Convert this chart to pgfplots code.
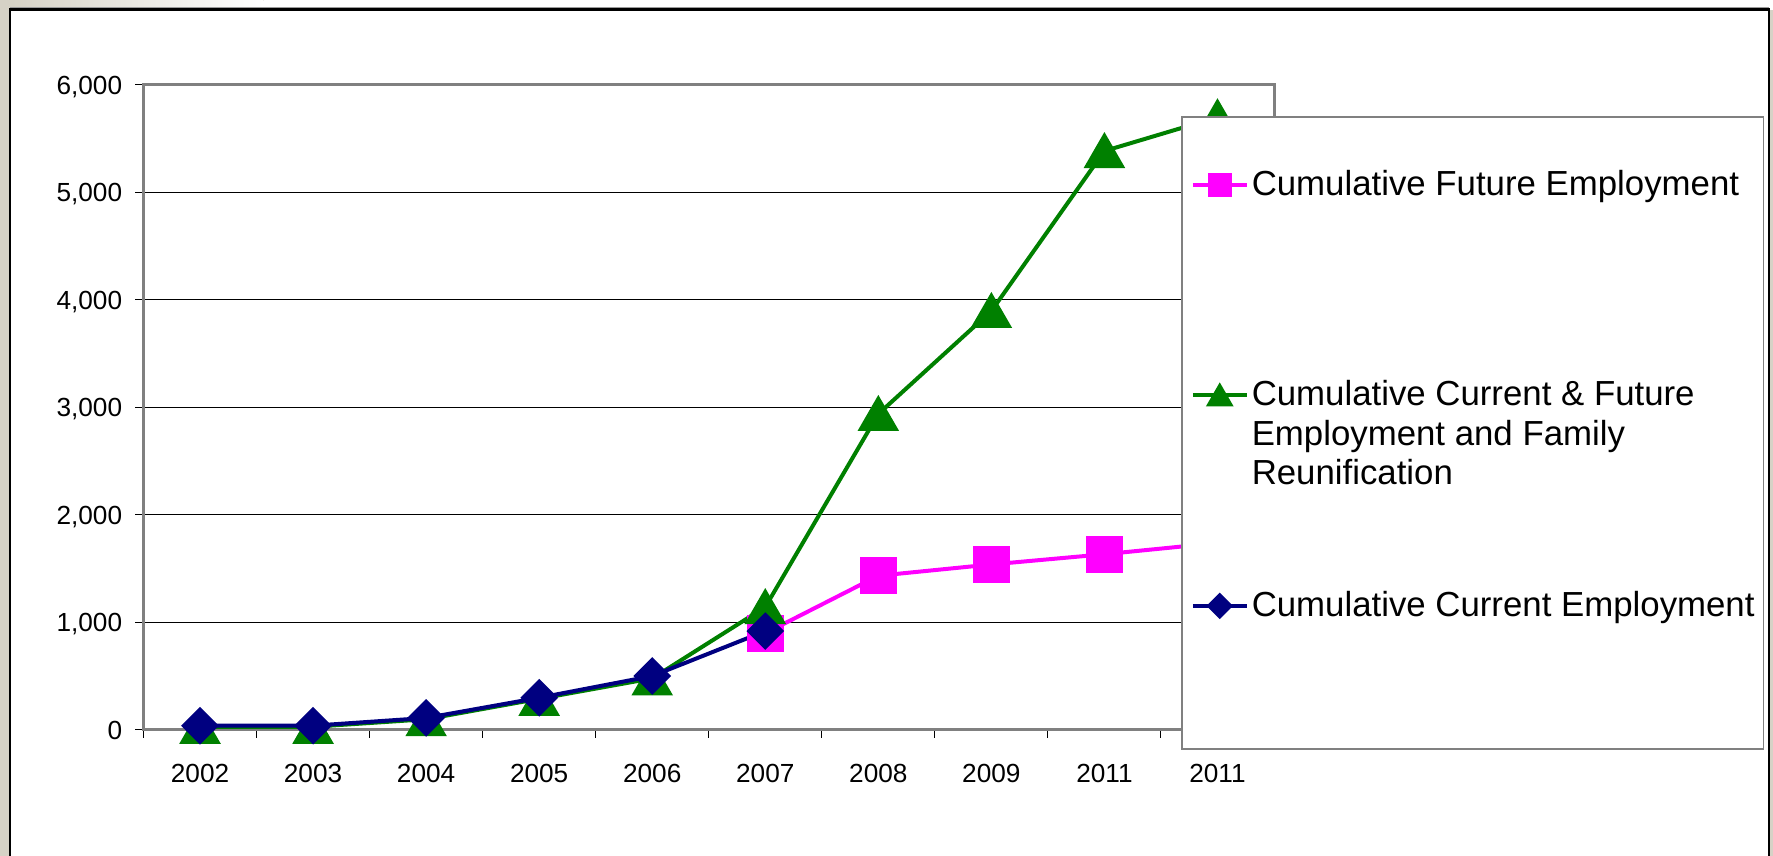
\documentclass[border=0pt]{standalone}
\usepackage{pgfplots}
\pgfplotsset{compat=1.18}
\usepackage{fontspec}
\setmainfont{Liberation Sans}
\definecolor{beigec}{HTML}{D6D2C6}
\definecolor{axgray}{HTML}{808080}
\definecolor{pinkc}{HTML}{FF00FF}
\definecolor{greenc}{HTML}{008000}
\definecolor{navyc}{HTML}{000080}
\begin{document}
\begin{tikzpicture}
\useasboundingbox (-71.75pt,-63pt) rectangle (814.75pt,365pt);
\fill[beigec] (-71.75pt,-63pt) rectangle (814.75pt,365pt);
\shade[left color=beigec, right color=white] (-66pt,360pt) rectangle (60pt,365pt);
\fill[white] (60pt,360pt) rectangle (814.75pt,365pt);
\fill[white] (-66.75pt,-70pt) rectangle (812.75pt,360.25pt);
\draw[axgray!80, line width=0.6pt] (-66.75pt,361.4pt) -- (812.75pt,361.4pt);
\draw[black, line width=1.2pt] (-66.75pt,-70pt) -- (-66.75pt,360.25pt) -- (812.75pt,360.25pt) -- (812.75pt,-70pt);
\begin{axis}[
  at={(0,0)}, anchor=south west,
  scale only axis, width=565.25pt, height=322.5pt,
  xmin=-0.5, xmax=9.5, ymin=0, ymax=6000,
  clip=false,
  xtick={-0.5,0.5,1.5,2.5,3.5,4.5,5.5,6.5,7.5,8.5,9.5},
  x tick label as interval,
  xticklabels={2002,2003,2004,2005,2006,2007,2008,2009,2011,2011},
  ytick={0,1000,2000,3000,4000,5000,6000},
  scaled y ticks=false,
  /pgf/number format/1000 sep={,},
  /pgf/number format/assume math mode=true,
  tick align=outside, xtick pos=bottom, ytick pos=left,
  major tick length=4pt,
  tick style={black, line width=0.5pt},
  axis line style={draw=axgray, line width=1.5pt},
  ymajorgrids, grid style={black, line width=0.5pt},
  y tick label style={anchor=base east, inner sep=0pt, xshift=-6.5pt, yshift=-4.75pt, font=\fontsize{13.1}{16}\selectfont},
  x tick label style={anchor=north, inner sep=0pt, yshift=-12.75pt, font=\fontsize{13.1}{16}\selectfont},
  legend image code/.code={\draw[mark repeat=2,mark phase=2,#1] plot coordinates {(0pt,0pt)(13.5pt,0pt)(27pt,0pt)};},
  legend cell align=left,
  legend style={at={(0.91774,0.95194)}, anchor=north west, draw=axgray, line width=0.75pt, fill=white,
    inner xsep=4.5pt, inner ysep=24.25pt, row sep=48.25pt, column sep=1.5pt,
    font=\fontsize{17.4}{19.8}\selectfont,
    nodes={inner sep=0pt, align=left, text height=15pt, text depth=42pt, font=\fontsize{17.4}{19.8}\selectfont}},
]
\addplot[pinkc, line width=2pt, mark=square*, mark size=8.35pt, mark options={solid},
  legend image post style={mark size=5pt, yshift=18.7pt}]
  coordinates {(5,900)(6,1435)(7,1540)(8,1635)(9,1740)};
\addlegendentry{Cumulative Future Employment}
\addplot[greenc, line width=2pt, mark=triangle*, mark size=10pt, mark options={solid, yshift=-2.5pt},
  legend image post style={mark size=6pt, yshift=18.7pt, mark options={solid, yshift=-1.5pt}}]
  coordinates {(0,30)(1,30)(2,100)(3,290)(4,480)(5,1144)(6,2940)(7,3898)(8,5386)(9,5700)};
\addlegendentry{\vtop{\baselineskip=19.8pt\hbox{Cumulative Current \& Future}\hbox{Employment and Family}\hbox{Reunification}}}
\addplot[navyc, line width=2pt, mark=square*, mark size=5.66pt, mark options={solid, rotate=45},
  legend image post style={mark size=3.7pt, yshift=18.7pt}]
  coordinates {(0,40)(1,40)(2,112)(3,300)(4,502)(5,920)};
\addlegendentry{Cumulative Current Employment}
\end{axis}
\end{tikzpicture}
\end{document}
